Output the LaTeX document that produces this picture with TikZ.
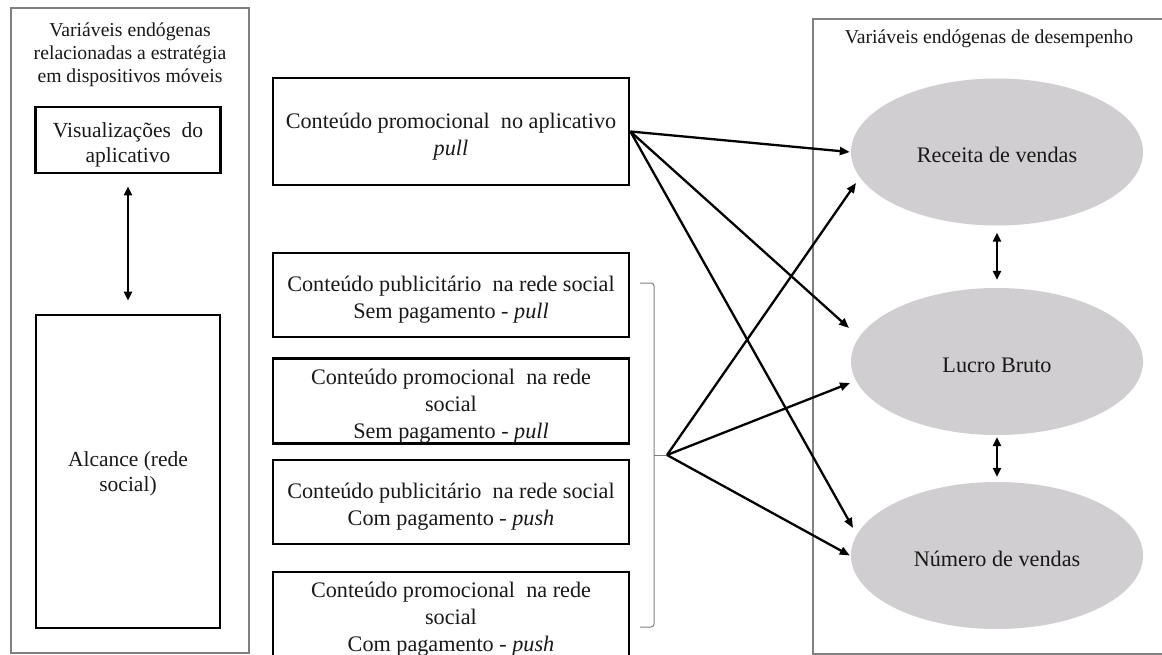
\documentclass[tikz,border=0pt]{standalone}
\usepackage{fontspec}
\setmainfont{Liberation Serif}
\usetikzlibrary{shapes.geometric,arrows.meta,calc}
\definecolor{ellfill}{RGB}{208,206,208}
\definecolor{framegray}{RGB}{128,128,128}
\definecolor{txt}{RGB}{25,25,25}
\newcommand{\tstr}[1]{\rule{0pt}{#1pt}}
\tikzset{
  bx/.style={draw=black, line width=2.8pt, inner sep=0pt, align=center, text=txt, font=\fontsize{22.2}{27}\selectfont},
  ell/.style={ellipse, fill=ellfill, minimum width=292pt, minimum height=147pt, inner sep=0pt, text=txt, font=\fontsize{22.2}{27}\selectfont},
  frame/.style={draw=framegray, line width=1.5pt},
  ttl/.style={align=center, text=txt, inner sep=0pt, font=\fontsize{19.7}{23}\selectfont},
  arr/.style={line width=2.3pt, -{Triangle[length=10pt,width=8pt]}},
  darr/.style={line width=2.3pt, {Triangle[length=9pt,width=8pt]}-{Triangle[length=9pt,width=8pt]}},
  brk/.style={draw=framegray, line width=1pt},
}
\begin{document}
\begin{tikzpicture}[x=1pt,y=-1pt]
\useasboundingbox (0,0) rectangle (1162,655);
\clip (0,0) rectangle (1162,655);
\fill[white] (0,0) rectangle (1162,655);

% left container
\draw[frame] (11,8) rectangle (249,653);
\node[ttl] (lt) at (130,50.5) {\tstr{22}Variáveis endógenas\\relacionadas a estratégia\\em dispositivos móveis};
\node[bx, minimum width=185pt, minimum height=66pt, font=\fontsize{21.5}{25}\selectfont] (vis) at (128,140) {\tstr{24}Visualizações\ \ do\\aplicativo};
\node[bx, minimum width=184pt, minimum height=313pt, font=\fontsize{21.5}{25}\selectfont] (alc) at (128,471.5) {\tstr{20}Alcance (rede\\social)};
\draw[darr, shorten <=12pt, shorten >=13pt] (vis.south) -- (alc.north);

% middle boxes
\node[bx, minimum width=356pt, minimum height=107pt] (b1) at (451,131.5) {\tstr{25}Conteúdo promocional\ \ no aplicativo\\\textit{pull}};
\node[bx, minimum width=356pt, minimum height=84pt] (b2) at (451,295) {\tstr{25}Conteúdo publicitário\ \ na rede social\\Sem pagamento - \textit{pull}};
\node[bx, minimum width=356pt, minimum height=84pt] (b3) at (451,401) {\tstr{26}Conteúdo promocional\ \ na rede\\social\\Sem pagamento - \textit{pull}};
\node[bx, minimum width=356pt, minimum height=84pt] (b4) at (451,502) {\tstr{24}Conteúdo publicitário\ \ na rede social\\Com pagamento - \textit{push}};
\node[bx, minimum width=356pt, minimum height=86pt] (b5) at (451,615) {\tstr{24}Conteúdo promocional\ \ na rede\\social\\Com pagamento - \textit{push}};

% bracket
\draw[brk, rounded corners=3pt] (640,283) -- (654,283) -- (654,627) -- (640,627);
\coordinate (br) at (667,455);
\draw[brk] (654,455) -- (br);

% right container
\draw[frame] (813,19) rectangle (1175,654);
\node[ttl] (rt) at (989,39) {Variáveis endógenas de desempenho};
\node[ell] (rec) at (997,152) {\tstr{22}Receita de vendas};
\node[ell] (luc) at (997,361.5) {\tstr{22}Lucro Bruto};
\node[ell] (num) at (997,555.5) {\tstr{22}Número de vendas};
\draw[darr, shorten <=7pt, shorten >=8pt] (rec.south) -- (luc.north);
\draw[darr, shorten <=2pt, shorten >=5pt] (luc.south) -- (num.north);

% arrows from app content
\draw[arr] (b1.east) -- ($(rec.west)+(-1,0)$);
\draw[arr] (b1.east) -- ($(luc)+(-148,-33.5)$);
\draw[arr] (b1.east) -- ($(num)+(-144,-27.5)$);
% arrows from social network group
\draw[arr] (br) -- ($(rec)+(-141,31)$);
\draw[arr] (br) -- ($(luc)+(-147,21.5)$);
\draw[arr] (br) -- ($(num.west)+(-1,0)$);
\end{tikzpicture}
\end{document}
